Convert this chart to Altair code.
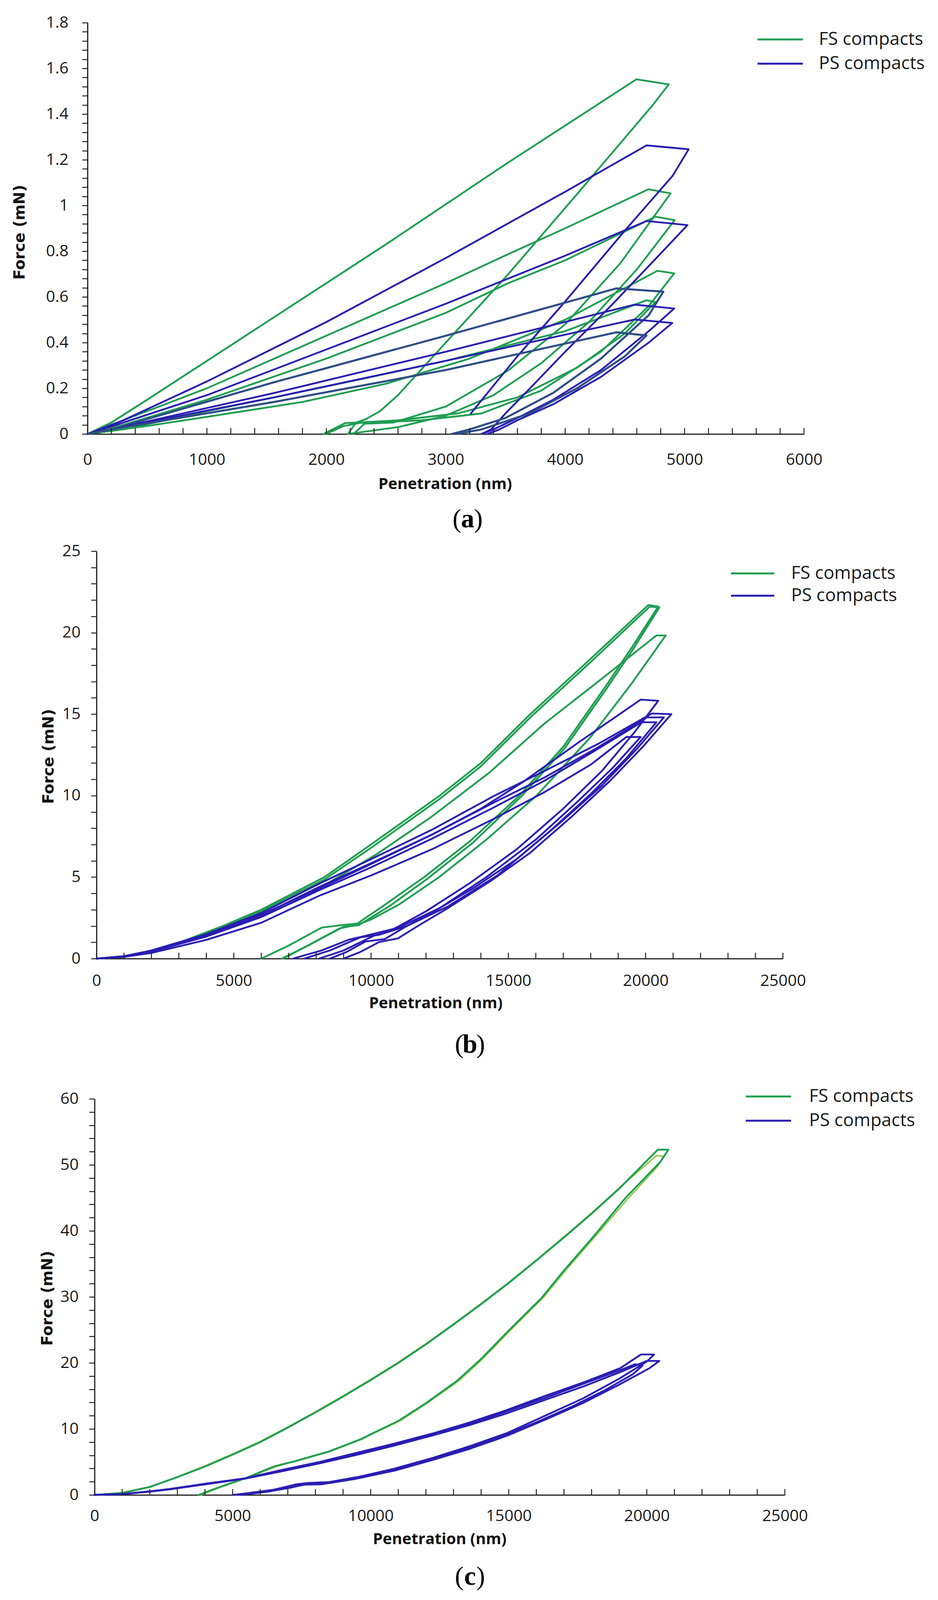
import altair as alt
import pandas as pd

GREEN = "#1f9e52"
BLUE = "#2a1db3"
SLATE = "#2e4d86"
LIME = "#8dc641"
AXIS = "#222222"
LABEL_FONT = "Open Sans"

SERIES = ["FS compacts", "PS compacts"]

# ---------------- Panel (a): penetration (nm) / force (mN) ----------------
a_fs1_x = [0, 200, 500, 1500, 2500, 3500, 4596, 4868, 4730, 4100, 3523, 3000, 2600, 2450, 2330, 2250, 2180]
a_fs1_f = [0, 0.05, 0.15, 0.49, 0.83, 1.18, 1.552, 1.530, 1.437, 1.05, 0.699, 0.40, 0.17, 0.10, 0.065, 0.05, 0]
a_fs2_x = [0, 300, 1000, 2000, 3000, 3523, 4000, 4697, 4883, 4462, 4000, 3523, 3000, 2560, 2320, 2228]
a_fs2_f = [0, 0.06, 0.20, 0.43, 0.66, 0.787, 0.90, 1.071, 1.053, 0.747, 0.48, 0.278, 0.12, 0.05, 0.045, 0]
a_fs3_x = [0, 300, 1000, 2000, 3000, 3523, 4000, 4756, 4917, 4600, 4200, 3800, 3400, 3000, 2600, 2182]
a_fs3_f = [0, 0.04, 0.15, 0.33, 0.53, 0.66, 0.76, 0.951, 0.936, 0.72, 0.49, 0.31, 0.17, 0.08, 0.03, 0]
a_fs4_x = [0, 500, 1000, 1800, 2500, 3200, 4000, 4773, 4913, 4700, 4300, 3800, 3300, 2800, 2400, 2290, 2139, 2000]
a_fs4_f = [0, 0.035, 0.075, 0.14, 0.22, 0.33, 0.50, 0.714, 0.703, 0.56, 0.36, 0.19, 0.09, 0.06, 0.05, 0.049, 0.034, 0]
a_fs5_x = [0, 300, 1000, 1560, 2200, 3000, 4000, 4681, 4756, 4500, 4100, 3600, 3100, 2600, 2254, 2159, 1976]
a_fs5_f = [0, 0.02, 0.10, 0.16, 0.23, 0.32, 0.45, 0.585, 0.577, 0.44, 0.29, 0.16, 0.09, 0.06, 0.05, 0.048, 0]
a_ps1_x = [0, 300, 1000, 2000, 3000, 4000, 4681, 5034, 4900, 4500, 4000, 3600, 3210]
a_ps1_f = [0, 0.06, 0.23, 0.49, 0.77, 1.06, 1.263, 1.246, 1.13, 0.89, 0.58, 0.34, 0.09]
a_ps2_x = [0, 300, 1000, 2000, 3000, 3523, 4000, 4681, 5024, 4800, 4400, 4000, 3706, 3500, 3380, 3300]
a_ps2_f = [0, 0.05, 0.17, 0.37, 0.57, 0.68, 0.78, 0.932, 0.914, 0.79, 0.57, 0.36, 0.20, 0.09, 0.02, 0]
a_ps3_x = [0, 200, 1560, 3000, 4429, 4822, 4700, 4300, 3900, 3500, 3200, 3050]
a_ps3_f = [0, 0.02, 0.226, 0.43, 0.637, 0.623, 0.52, 0.33, 0.18, 0.07, 0.02, 0]
a_ps4_x = [0, 200, 1560, 3000, 4580, 4913, 4700, 4300, 3900, 3600, 3400, 3300]
a_ps4_f = [0, 0.02, 0.179, 0.36, 0.566, 0.549, 0.45, 0.28, 0.15, 0.07, 0.02, 0]
a_ps5_x = [0, 200, 1560, 3000, 4580, 4897, 4700, 4300, 3900, 3600, 3450, 3350]
a_ps5_f = [0, 0.02, 0.16, 0.32, 0.501, 0.486, 0.40, 0.25, 0.13, 0.06, 0.02, 0]
a_ps6_x = [0, 200, 1560, 3000, 4429, 4681, 4500, 4100, 3700, 3300, 3100]
a_ps6_f = [0, 0.02, 0.14, 0.28, 0.445, 0.431, 0.34, 0.20, 0.09, 0.02, 0]

# ---------------- Panel (b) ----------------
b_fs1_x = [0, 1000, 2000, 3200, 4600, 6000, 8300, 10000, 12500, 14000, 15800, 18000, 20100, 20460, 19500, 18500, 17000, 15400, 13600, 11935, 10500, 9500, 8900, 8200, 7000, 6000]
b_fs1_f = [0, 0.1, 0.5, 1.1, 2.0, 3.0, 5.0, 7.0, 10.0, 12.0, 15.0, 18.4, 21.7, 21.6, 19.1, 16.6, 13.0, 10.0, 7.2, 5.0, 3.3, 2.15, 2.05, 1.9, 0.8, 0]
b_fs2_x = [0, 1000, 2000, 3200, 4600, 6000, 8300, 10000, 12500, 14000, 15800, 18000, 20150, 20500, 19550, 18550, 17050, 15500, 13700, 12050, 10700, 9550, 9000, 8800, 7700, 6750]
b_fs2_f = [0, 0.1, 0.45, 1.05, 1.9, 2.9, 4.85, 6.8, 9.8, 11.8, 14.8, 18.2, 21.6, 21.55, 19.0, 16.5, 12.9, 10.0, 7.1, 4.9, 3.25, 2.05, 1.95, 1.78, 0.8, 0]
b_fs3_x = [0, 1000, 2000, 3200, 4600, 6300, 8300, 10200, 12200, 14300, 16300, 18500, 20392, 20733, 19500, 18000, 16027, 14200, 12480, 11000, 10000, 9550, 8850, 7700, 6800]
b_fs3_f = [0, 0.1, 0.45, 1.0, 1.8, 2.9, 4.5, 6.4, 8.7, 11.4, 14.4, 17.3, 19.83, 19.83, 16.9, 13.6, 10.0, 7.3, 5.0, 3.3, 2.4, 2.1, 1.85, 0.8, 0]
b_ps1_x = [0, 1000, 2000, 4000, 6000, 8116, 10000, 12208, 14000, 15500, 17500, 19819, 20460, 19600, 18400, 17000, 15300, 13570, 12000, 10700, 10100, 9000, 8116]
b_ps1_f = [0, 0.13, 0.45, 1.4, 2.7, 4.3, 5.8, 7.6, 9.2, 10.8, 13.2, 15.89, 15.82, 13.9, 11.5, 9.2, 6.7, 4.6, 2.9, 1.7, 1.4, 0.5, 0]
b_ps2_x = [0, 1000, 2000, 4000, 6000, 8116, 10000, 12208, 14500, 16300, 18300, 20228, 20937, 19900, 18700, 17300, 15800, 14390, 12800, 11800, 10980, 10298, 9600, 9000]
b_ps2_f = [0, 0.15, 0.5, 1.5, 2.8, 4.6, 6.1, 7.9, 10.0, 11.5, 13.2, 15.04, 15.0, 13.0, 10.9, 8.7, 6.5, 4.8, 3.1, 2.1, 1.24, 1.02, 0.4, 0]
b_ps3_x = [0, 1000, 2000, 4000, 6000, 8116, 10000, 12208, 14500, 16300, 18200, 20051, 20665, 19700, 18400, 17000, 15300, 13800, 12300, 11200, 10500, 9800, 9100, 8500]
b_ps3_f = [0, 0.13, 0.45, 1.4, 2.65, 4.4, 5.85, 7.6, 9.6, 11.1, 12.9, 14.8, 14.8, 12.9, 10.6, 8.5, 6.1, 4.4, 2.9, 1.9, 1.2, 1.05, 0.4, 0]
b_ps4_x = [0, 1000, 2000, 4000, 6000, 8116, 10000, 12208, 14500, 16300, 18000, 19846, 20392, 19300, 18000, 16500, 14600, 12800, 11300, 10298, 9600, 8500, 7570]
b_ps4_f = [0, 0.12, 0.42, 1.35, 2.55, 4.2, 5.6, 7.35, 9.3, 10.9, 12.6, 14.5, 14.5, 12.3, 10.1, 7.8, 5.1, 3.2, 2.0, 1.46, 1.3, 0.5, 0]
b_ps5_x = [0, 1000, 2000, 4000, 6000, 8116, 10000, 12208, 14500, 16300, 18000, 19300, 19819, 18800, 17500, 16000, 14200, 12500, 11000, 9753, 9207, 8200, 7160]
b_ps5_f = [0, 0.1, 0.35, 1.15, 2.2, 3.86, 5.1, 6.7, 8.6, 10.2, 11.9, 13.6, 13.6, 11.7, 9.6, 7.3, 5.0, 3.1, 1.9, 1.38, 1.17, 0.5, 0]

# ---------------- Panel (c) ----------------
c_fs1_x = [0, 1000, 2000, 3000, 4000, 5000, 6000, 7000, 8000, 9000, 10000, 11000, 12000, 13000, 14000, 15000, 16000, 17000, 18000, 19000, 20400,
           20780, 20500, 19232, 18000, 17000, 16183, 15000, 14000, 13133, 12000, 11000, 10000, 9648, 8500, 7253, 6490, 5500, 4600, 3768]
c_fs1_f = [0, 0.3, 1.2, 2.7, 4.3, 6.1, 8.0, 10.2, 12.5, 14.9, 17.4, 20.0, 22.8, 25.8, 28.9, 32.1, 35.5, 39.0, 42.6, 46.4, 52.3,
           52.3, 50.5, 45.0, 38.8, 34.0, 29.8, 24.9, 20.6, 17.3, 13.9, 11.2, 9.2, 8.45, 6.6, 5.1, 4.3, 2.6, 1.3, 0]
c_fs2_x = [0, 1000, 2000, 3000, 4000, 5000, 6000, 7000, 8000, 9000, 10000, 11000, 12000, 13000, 14000, 15000, 16000, 17000, 18000, 19000, 20350,
           20600, 20400, 19300, 18100, 17100, 16250, 15050, 14050, 13200, 12050, 11050, 10050, 9700, 8550, 7300, 6950, 6550, 5550, 4650, 3850]
c_fs2_f = [0, 0.35, 1.25, 2.75, 4.4, 6.2, 8.1, 10.3, 12.6, 15.0, 17.5, 20.1, 22.9, 25.9, 29.0, 32.2, 35.6, 39.1, 42.7, 46.5, 51.4,
           51.3, 49.8, 44.8, 39.0, 34.2, 29.9, 24.9, 20.6, 17.3, 13.9, 11.2, 9.2, 8.45, 6.6, 5.1, 4.75, 4.25, 2.6, 1.3, 0]
c_ps1_x = [0, 1000, 2000, 2720, 4000, 5440, 6800, 8160, 9520, 10880, 12240, 13600, 14960, 16320, 17680, 19040, 19788,
           20264, 20000, 19000, 17680, 16320, 14960, 13600, 12240, 10880, 9520, 8500, 7700, 7300, 6500, 5440, 5032]
c_ps1_f = [0, 0.15, 0.55, 0.9, 1.7, 2.5, 3.8, 5.0, 6.4, 7.8, 9.3, 11.0, 12.9, 15.0, 17.0, 19.2, 21.27,
           21.27, 20.2, 17.6, 14.6, 12.0, 9.4, 7.4, 5.6, 4.0, 2.7, 1.95, 1.8, 1.6, 0.8, 0.2, 0]
c_ps2_x = [0, 1000, 2000, 2720, 4000, 5440, 6800, 8160, 9520, 10880, 12240, 13600, 14960, 16320, 17680, 19040, 20000,
           20454, 20100, 19000, 17680, 16320, 14960, 13600, 12240, 10880, 9520, 8500, 7600, 7200, 6300, 5300]
c_ps2_f = [0, 0.12, 0.5, 0.85, 1.6, 2.45, 3.6, 4.8, 6.1, 7.5, 9.0, 10.6, 12.4, 14.4, 16.4, 18.6, 20.3,
           20.3, 19.2, 16.7, 13.9, 11.4, 9.0, 7.0, 5.3, 3.7, 2.5, 1.8, 1.55, 1.2, 0.5, 0]
c_ps3_x = [0, 1000, 2000, 2720, 4000, 5440, 6800, 8160, 9520, 10880, 12240, 13600, 14960, 16320, 17680, 19040, 19570,
           19850, 19500, 18500, 17300, 16000, 14700, 13300, 12000, 10700, 9400, 8200, 7500, 7100, 6000, 5000]
c_ps3_f = [0, 0.12, 0.5, 0.85, 1.62, 2.5, 3.7, 4.9, 6.2, 7.6, 9.1, 10.8, 12.7, 14.7, 16.8, 18.9, 19.8,
           19.6, 18.3, 15.9, 13.4, 11.0, 8.8, 6.8, 5.1, 3.6, 2.4, 1.6, 1.55, 1.1, 0.35, 0]

# labelled x-axis values
a_x_major = [0, 1000, 2000, 3000, 4000, 5000, 6000]
b_x_major = [0, 5000, 10000, 15000, 20000, 25000]
c_x_major = [0, 5000, 10000, 15000, 20000, 25000]

LW = 4.6


def curves_df(curves):
    rows = []
    for name, color, width, xs, fs in curves:
        for i, (x, f) in enumerate(zip(xs, fs)):
            rows.append(dict(curve=name, i=i, x=x, f=f, color=color, w=width))
    return pd.DataFrame(rows)


a_df = curves_df([
    ("a_fs1", GREEN, LW, a_fs1_x, a_fs1_f), ("a_fs2", GREEN, LW, a_fs2_x, a_fs2_f),
    ("a_fs3", GREEN, LW, a_fs3_x, a_fs3_f), ("a_fs4", GREEN, LW, a_fs4_x, a_fs4_f),
    ("a_fs5", GREEN, LW, a_fs5_x, a_fs5_f),
    ("a_ps1", BLUE, LW, a_ps1_x, a_ps1_f), ("a_ps2", BLUE, LW, a_ps2_x, a_ps2_f),
    ("a_ps3", SLATE, LW + 0.6, a_ps3_x, a_ps3_f), ("a_ps4", BLUE, LW, a_ps4_x, a_ps4_f),
    ("a_ps5", BLUE, LW, a_ps5_x, a_ps5_f), ("a_ps6", SLATE, LW + 0.6, a_ps6_x, a_ps6_f),
])
b_df = curves_df([
    ("b_fs1", GREEN, LW, b_fs1_x, b_fs1_f), ("b_fs2", GREEN, LW, b_fs2_x, b_fs2_f),
    ("b_fs3", GREEN, LW, b_fs3_x, b_fs3_f),
    ("b_ps1", BLUE, LW, b_ps1_x, b_ps1_f), ("b_ps2", BLUE, LW, b_ps2_x, b_ps2_f),
    ("b_ps3", BLUE, LW, b_ps3_x, b_ps3_f), ("b_ps4", BLUE, LW, b_ps4_x, b_ps4_f),
    ("b_ps5", BLUE, LW, b_ps5_x, b_ps5_f),
])
c_df = curves_df([
    ("c_fs2", LIME, 3.5, c_fs2_x, c_fs2_f), ("c_fs1", GREEN, LW, c_fs1_x, c_fs1_f),
    ("c_ps1", BLUE, LW, c_ps1_x, c_ps1_f), ("c_ps2", BLUE, LW, c_ps2_x, c_ps2_f),
    ("c_ps3", BLUE, LW, c_ps3_x, c_ps3_f),
])

ONE = pd.DataFrame({"k": [0]})


def panel(df, *, width, height, xdomain, xrange_, ydomain, yrange_, xmajor, xminor_step,
          ymajor_step, yminor_step, yoffset, ylabelpad, xlabelpad, ytitle_x, ytitle_y,
          xtitle_x, xtitle_y, leg_x1, leg_x2, leg_tx, leg_y, cap_x, cap_y, cap_letter):
    xs = alt.Scale(domain=xdomain, range=xrange_, nice=False, zero=False)
    ys = alt.Scale(domain=ydomain, range=yrange_, nice=False, zero=False)
    n_y = int(round(ydomain[1] / yminor_step))
    yvalues = [round(k * yminor_step, 4) for k in range(n_y + 1)]
    n_x = int(round(xdomain[1] / xminor_step))
    xticks = pd.DataFrame({"x": [k * xminor_step for k in range(n_x + 1)]})

    xaxis = alt.Axis(values=xmajor, format="d", ticks=False, labelFont=LABEL_FONT,
                     labelFontSize=41, labelColor="#1a1a1a", labelPadding=xlabelpad,
                     labelFlush=False, labelOverlap=False, domainColor=AXIS, domainWidth=3,
                     grid=False, title="Penetration (nm)", titleFont=LABEL_FONT,
                     titleFontSize=40, titleFontWeight="bold", titleColor="#111111",
                     titleX=xtitle_x, titleY=xtitle_y, titleAlign="center",
                     titleBaseline="middle", titleAngle=0)
    yaxis = alt.Axis(values=yvalues, format="~g",
                     labelExpr=f"abs(datum.value/{ymajor_step} - round(datum.value/{ymajor_step})) < 0.001 ? datum.label : ''",
                     tickSize=14, tickWidth=2.5, tickColor=AXIS, labelFont=LABEL_FONT,
                     labelFontSize=41, labelColor="#1a1a1a", labelPadding=ylabelpad,
                     labelOverlap=False, labelFlush=False, domainColor=AXIS, domainWidth=3,
                     grid=False, offset=yoffset, title="Force (mN)", titleFont="DejaVu Sans",
                     titleFontSize=39, titleFontWeight="bold", titleColor="#111111",
                     titleAngle=270, titleX=ytitle_x, titleY=ytitle_y, titleAlign="center",
                     titleBaseline="middle")

    lines = alt.Chart(df).mark_line(strokeJoin="round", strokeCap="round").encode(
        x=alt.X("x:Q", scale=xs, axis=xaxis),
        y=alt.Y("f:Q", scale=ys, axis=yaxis),
        detail="curve:N",
        order="i:Q",
        color=alt.Color("color:N", scale=None),
        strokeWidth=alt.StrokeWidth("w:Q", scale=None),
    )
    ticks = alt.Chart(xticks).mark_rule(color=AXIS, strokeWidth=2.5).encode(
        x=alt.X("x:Q", scale=xs, axis=xaxis),
        y=alt.value(height), y2=alt.value(height - 15),
    )
    layers = [lines, ticks]
    for label, color, ly in zip(SERIES, [GREEN, BLUE], leg_y):
        layers.append(alt.Chart(ONE).mark_rule(color=color, strokeWidth=5).encode(
            x=alt.value(leg_x1), x2=alt.value(leg_x2), y=alt.value(ly)))
        layers.append(alt.Chart(ONE).mark_text(
            text=label, align="left", baseline="middle", font=LABEL_FONT, fontSize=46,
            color="#1a1a1a").encode(x=alt.value(leg_tx), y=alt.value(ly)))
    # caption "(x)" with bold letter
    layers.append(alt.Chart(ONE).mark_text(
        text="(", align="right", baseline="middle", font="Liberation Serif", fontSize=68,
        color="#000000").encode(x=alt.value(cap_x - 16), y=alt.value(cap_y)))
    layers.append(alt.Chart(ONE).mark_text(
        text=cap_letter, align="center", baseline="middle", font="Liberation Serif",
        fontSize=68, fontWeight="bold", color="#000000").encode(
        x=alt.value(cap_x), y=alt.value(cap_y)))
    layers.append(alt.Chart(ONE).mark_text(
        text=")", align="left", baseline="middle", font="Liberation Serif", fontSize=68,
        color="#000000").encode(x=alt.value(cap_x + 16), y=alt.value(cap_y)))
    return alt.layer(*layers).properties(width=width, height=height)


pa = panel(a_df, width=1834, height=1053, xdomain=[0, 6000], xrange_=[0, 1834],
           ydomain=[0, 1.8], yrange_=[1053, 0], xmajor=a_x_major, xminor_step=200,
           ymajor_step=0.2, yminor_step=0.04, yoffset=0, ylabelpad=35, xlabelpad=46,
           ytitle_x=-174, ytitle_y=536, xtitle_x=915, xtitle_y=128,
           leg_x1=1715, leg_x2=1831, leg_tx=1872, leg_y=[43, 105],
           cap_x=973, cap_y=1272, cap_letter="a")

pb = panel(b_df, width=1780, height=1043, xdomain=[0, 25000], xrange_=[23, 1780],
           ydomain=[0, 25], yrange_=[1043, 0], xmajor=b_x_major, xminor_step=1000,
           ymajor_step=5, yminor_step=1, yoffset=-23, ylabelpad=27, xlabelpad=37,
           ytitle_x=-123, ytitle_y=525, xtitle_x=891, xtitle_y=114,
           leg_x1=1647, leg_x2=1758, leg_tx=1801, leg_y=[57, 114],
           cap_x=979, cap_y=1264, cap_letter="b")

pc = panel(c_df, width=1785, height=1073, xdomain=[0, 25000], xrange_=[18, 1785],
           ydomain=[0, 60], yrange_=[1073, 59], xmajor=c_x_major, xminor_step=1000,
           ymajor_step=10, yminor_step=2, yoffset=-18, ylabelpad=27, xlabelpad=34,
           ytitle_x=-121, ytitle_y=569, xtitle_x=901, xtitle_y=113,
           leg_x1=1685, leg_x2=1801, leg_tx=1847, leg_y=[53, 115],
           cap_x=979, cap_y=1283, cap_letter="c")

chart = alt.vconcat(pa, pb, pc, spacing=300, bounds="flush").properties(
    padding={"left": 23, "top": 29, "right": 5, "bottom": 5},
    background="white",
).configure_view(stroke=None)

chart.save("out.html", embed_options={"renderer": "svg", "actions": False})
